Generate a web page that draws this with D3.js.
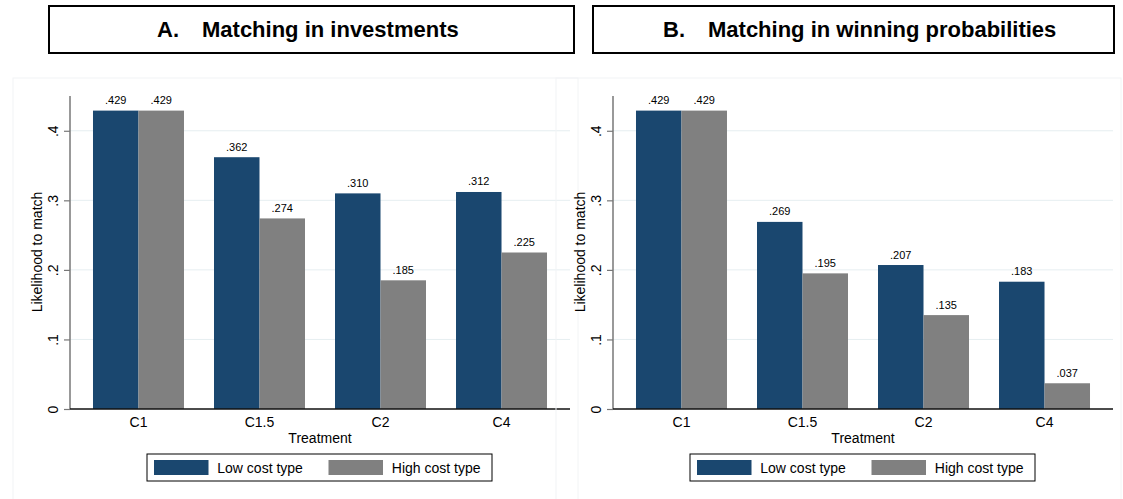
<!DOCTYPE html>
<html>
<head>
<meta charset="utf-8">
<script src="https://cdn.jsdelivr.net/npm/d3@7"></script>
<style>
  html, body { margin: 0; padding: 0; background: #fff; }
  svg { display: block; font-family: Arial, "Liberation Sans", Helvetica, sans-serif; }
</style>
</head>
<body>
<svg id="chart" width="1123" height="499"></svg>
<script>
// Treatments on the x axis
const treatments = ["C1", "C1.5", "C2", "C4"];
// Cost types (legend entries)
const costTypes = ["Low cost type", "High cost type"];
// Panel A: matching in investments
const investLow  = [0.429, 0.362, 0.310, 0.312];
const investHigh = [0.429, 0.274, 0.185, 0.225];
// Panel B: matching in winning probabilities
const probLow  = [0.429, 0.269, 0.207, 0.183];
const probHigh = [0.429, 0.195, 0.135, 0.037];
// Y axis ticks
const yTicks = [0, 0.1, 0.2, 0.3, 0.4];
const panelTitles = ["A.", "B."];
const panelSubtitles = ["Matching in investments", "Matching in winning probabilities"];

const colors = { "Low cost type": "#1a476f", "High cost type": "#808080" };
const fmtTick = v => v === 0 ? "0" : d3.format(".1f")(v).replace(/^0/, "");
const fmtVal = v => d3.format(".3f")(v).replace(/^0/, "");

const svg = d3.select("#chart");

const panels = [
  { low: investLow, high: investHigh, x0: 70, x1: 570, box: [49, 574], titleX: 157 },
  { low: probLow,   high: probHigh,   x0: 613, x1: 1113, box: [593, 1114], titleX: 663 }
];

const yTop = 96, yBase = 409;

panels.forEach((p, i) => {
  const g = svg.append("g");

  // faint outer region outline
  g.append("rect")
    .attr("x", p.x0 - 57).attr("y", 78)
    .attr("width", p.x1 - p.x0 + 65).attr("height", 430)
    .attr("fill", "none").attr("stroke", "#f2f4f5").attr("stroke-width", 1);

  // Title box
  g.append("rect")
    .attr("x", p.box[0]).attr("y", 6)
    .attr("width", p.box[1] - p.box[0]).attr("height", 47)
    .attr("fill", "#fff").attr("stroke", "#000").attr("stroke-width", 2);
  const t = g.append("text")
    .attr("x", p.titleX).attr("y", 37)
    .attr("font-size", 22).attr("font-weight", "bold").attr("fill", "#000");
  t.append("tspan").text(panelTitles[i]);
  t.append("tspan").attr("dx", 23).text(panelSubtitles[i]);

  const x = d3.scaleBand().domain(treatments).range([p.x0, p.x1])
    .paddingInner(0.248).paddingOuter(0.19);
  const xs = d3.scaleBand().domain(costTypes).range([0, x.bandwidth()]);
  const y = d3.scaleLinear().domain([0, 0.45]).range([yBase, yTop]);

  // gridlines
  g.append("g").selectAll("line").data(yTicks.filter(v => v > 0)).join("line")
    .attr("x1", p.x0).attr("x2", p.x1)
    .attr("y1", d => y(d)).attr("y2", d => y(d))
    .attr("stroke", "#e6eef1").attr("stroke-width", 1);

  // bars
  const rows = treatments.map((c, j) => ({
    c, vals: [{ k: costTypes[0], v: p.low[j] }, { k: costTypes[1], v: p.high[j] }]
  }));
  const grp = g.append("g").selectAll("g").data(rows).join("g")
    .attr("transform", d => `translate(${x(d.c)},0)`);
  grp.selectAll("rect").data(d => d.vals).join("rect")
    .attr("x", d => xs(d.k)).attr("width", xs.bandwidth())
    .attr("y", d => y(d.v)).attr("height", d => yBase - y(d.v))
    .attr("fill", d => colors[d.k]);
  grp.selectAll("text").data(d => d.vals).join("text")
    .attr("x", d => xs(d.k) + xs.bandwidth() / 2)
    .attr("y", d => y(d.v) - 6.5)
    .attr("text-anchor", "middle").attr("font-size", 11).attr("fill", "#000")
    .text(d => fmtVal(d.v));

  // y axis
  const ya = d3.axisLeft(y).tickValues(yTicks).tickSize(6).tickPadding(6).tickFormat(fmtTick);
  const yg = g.append("g").attr("transform", `translate(${p.x0},0)`).call(ya);
  yg.select(".domain").attr("d", `M0,${yTop}V${yBase}`).attr("stroke", "#777").attr("stroke-width", 1.5);
  yg.selectAll(".tick line").attr("stroke", "#777").attr("stroke-width", 1.2);
  yg.selectAll(".tick text")
    .attr("font-size", 14).attr("font-family", "Arial, 'Liberation Sans', sans-serif")
    .attr("fill", "#000")
    .attr("x", null).attr("dy", null)
    .attr("text-anchor", "middle")
    .attr("transform", "translate(-11.7,0) rotate(-90)");

  // x axis baseline and labels
  const xa = d3.axisBottom(x).tickSize(0).tickPadding(13);
  const xg = g.append("g").attr("transform", `translate(0,${yBase})`).call(xa);
  xg.select(".domain").attr("d", `M${p.x0},0H${p.x1}`).attr("stroke", "#111").attr("stroke-width", 1.5);
  xg.selectAll(".tick text").attr("font-size", 14)
    .attr("font-family", "Arial, 'Liberation Sans', sans-serif").attr("fill", "#000")
    .attr("dy", "0.35em");

  // axis titles
  g.append("text").attr("x", (p.x0 + p.x1) / 2).attr("y", 443)
    .attr("text-anchor", "middle").attr("font-size", 14).text("Treatment");
  g.append("text")
    .attr("transform", `translate(${p.x0 - 28},252) rotate(-90)`)
    .attr("text-anchor", "middle").attr("font-size", 14).text("Likelihood to match");

  // legend
  const lx = p.x0 + 77;
  const leg = g.append("g").attr("transform", `translate(${lx},454)`);
  leg.append("rect").attr("x", 0).attr("y", 0).attr("width", 345).attr("height", 27)
    .attr("fill", "#fff").attr("stroke", "#000").attr("stroke-width", 1);
  const items = leg.selectAll("g").data(costTypes).join("g")
    .attr("transform", (d, k) => `translate(${7 + k * 174.5},6)`);
  items.append("rect").attr("width", 54.5).attr("height", 15).attr("fill", d => colors[d]);
  items.append("text").attr("x", 63.3).attr("y", 13).attr("font-size", 14).text(d => d);
});
</script>
</body>
</html>
